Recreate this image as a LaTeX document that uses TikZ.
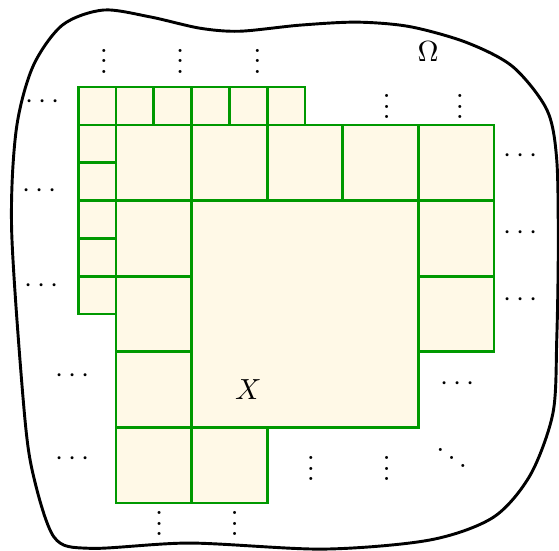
\documentclass[tikz,border=0pt,11pt]{standalone}
\usepackage{amsmath,amsfonts}
\usetikzlibrary{arrows,shapes}
\definecolor{cellfill}{RGB}{255,249,231}
\definecolor{cellline}{RGB}{0,153,0}
\tikzstyle{cell}=[draw=cellline,fill=cellfill,line width=1pt]
\tikzstyle{bdry}=[line width=1.1pt]
\tikzstyle{dots}=[inner sep=0pt]

\begin{document}
\begin{tikzpicture}
\useasboundingbox (-1.534,-0.622) rectangle (5.860,6.653);
% the domain
\draw[bdry] plot[smooth cycle, tension=0.5] coordinates {(-1.38,3.61) (-1.32,4.93) (-1.10,5.77) (-0.71,6.32) (-0.17,6.52) (0.45,6.43) (1.11,6.28) (1.64,6.24) (2.43,6.32) (3.19,6.36) (3.89,6.30) (4.64,6.09) (5.25,5.77) (5.70,5.20) (5.83,4.54) (5.85,3.35) (5.83,2.16) (5.78,1.19) (5.48,0.37) (4.99,-0.19) (4.15,-0.49) (2.74,-0.61) (0.98,-0.53) (-0.34,-0.60) (-0.82,-0.45) (-1.11,0.44) (-1.23,1.40)};
% big cube
\draw[cell] (1,1) rectangle (4,4);
% medium cubes
\draw[cell] (0,0) rectangle (1,1);
\draw[cell] (1,0) rectangle (2,1);
\draw[cell] (0,1) rectangle (1,2);
\draw[cell] (0,2) rectangle (1,3);
\draw[cell] (0,3) rectangle (1,4);
\draw[cell] (0,4) rectangle (1,5);
\draw[cell] (1,4) rectangle (2,5);
\draw[cell] (2,4) rectangle (3,5);
\draw[cell] (3,4) rectangle (4,5);
\draw[cell] (4,4) rectangle (5,5);
\draw[cell] (4,3) rectangle (5,4);
\draw[cell] (4,2) rectangle (5,3);
% small cubes
\foreach \x in {-0.5,0,0.5,1,1.5,2}
  \draw[cell] (\x,5) rectangle ++(0.5,0.5);
\foreach \y in {2.5,3,3.5,4,4.5}
  \draw[cell] (-0.5,\y) rectangle ++(0.5,0.5);
\node (X) at (1.75,1.5) {$X$};
\node (Om) at (4.13,5.97) {$\Omega$};
% dots
\node[dots] (t1) at (-0.16,5.95) {$\vdots$};
\node[dots] (t2) at (0.85,5.95) {$\vdots$};
\node[dots] (t3) at (1.87,5.95) {$\vdots$};
\node[dots] (t4) at (3.58,5.35) {$\vdots$};
\node[dots] (t5) at (4.55,5.35) {$\vdots$};
\node[dots] (l1) at (-0.94,5.30) {$\cdots$};
\node[dots] (l2) at (-0.98,4.13) {$\cdots$};
\node[dots] (l3) at (-0.95,2.87) {$\cdots$};
\node[dots] (l4) at (-0.54,1.68) {$\cdots$};
\node[dots] (l5) at (-0.54,0.58) {$\cdots$};
\node[dots] (r1) at (5.38,4.59) {$\cdots$};
\node[dots] (r2) at (5.38,3.57) {$\cdots$};
\node[dots] (r3) at (5.38,2.69) {$\cdots$};
\node[dots] (r4) at (4.55,1.57) {$\cdots$};
\node[dots] (b1) at (0.57,-0.17) {$\vdots$};
\node[dots] (b2) at (1.57,-0.17) {$\vdots$};
\node[dots] (b3) at (2.58,0.56) {$\vdots$};
\node[dots] (b4) at (3.58,0.56) {$\vdots$};
\node[dots] (d1) at (4.44,0.70) {$\ddots$};
\end{tikzpicture}
\end{document}
